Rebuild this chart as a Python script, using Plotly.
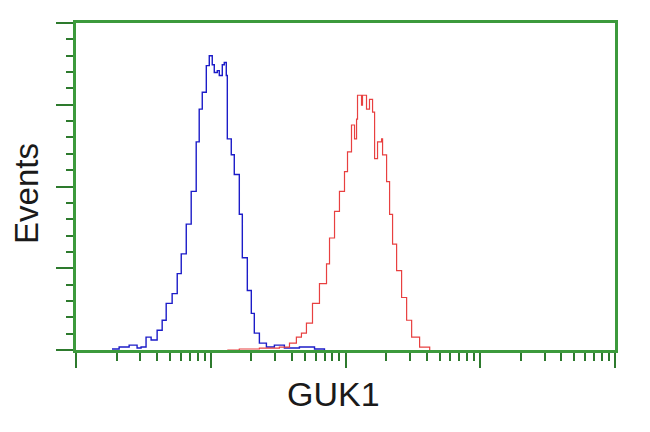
import plotly.graph_objects as go

# Blue histogram (control) - fluorescence intensity vs events
blue_x = [1.85, 2.09, 2.48, 2.84, 3.04, 3.31, 3.61, 4.00, 4.36, 4.67, 5.17, 5.64, 6.04,
          6.58, 7.16, 7.80, 8.21, 8.65, 9.27, 9.75, 10.26, 10.62, 11.18, 11.57, 12.18,
          12.60, 13.04, 13.27, 14.20, 14.95, 16.29, 17.15, 18.68, 20.00, 21.05, 22.96,
          25.88, 29.66, 35.2, 45.5, 58.9, 69.8]
blue_y = [0.6, 1.8, 3.0, 1.2, 1.8, 7.9, 6.1, 12.1, 18.2, 28.5, 34.5, 46.7, 58.8,
          77.0, 97.0, 127.3, 147.3, 157.6, 173.9, 180.0, 174.5, 169.7, 170.9, 167.9, 174.5,
          175.8, 167.9, 129.1, 119.4, 107.3, 83.0, 56.4, 36.4, 22.4, 10.3, 4.2,
          1.8, 3.0, 1.2, 1.8, 0.6, 0.0]

# Red histogram (GUK1 stained)
red_x = [13.27, 16.29, 22.96, 32.3, 38.4, 43.2, 47.1, 51.3, 56.9, 64.1, 72.3, 76.1,
         82.9, 90.2, 98.3, 103.5, 110.8, 116.7, 120.8, 122.8, 131.5, 133.7, 143.2, 150.7,
         158.8, 164.4, 172.9, 185.2, 188.4, 201.8, 212.4, 223.5, 239.5, 260.8, 284.2,
         309.6, 354.8, 421.7]
red_y = [0.0, 0.6, 1.2, 1.8, 4.2, 7.9, 10.3, 16.4, 28.5, 40.6, 52.7, 68.5,
         84.8, 97.0, 109.1, 121.2, 137.6, 129.1, 141.2, 155.8, 149.7, 155.8, 147.3, 153.3,
         145.5, 117.0, 127.3, 129.1, 119.4, 103.0, 83.0, 64.8, 48.5, 32.1, 18.2,
         7.9, 1.8, 0.0]

x_title = "GUK1"
y_title = "Events"

GREEN = "#3c9a3c"
TICK_GREEN = "#2d7a2d"

minor_x = [k * 10 ** d for d in range(4) for k in range(2, 10)]

fig = go.Figure()
fig.add_trace(go.Scatter(x=blue_x, y=blue_y, mode="lines", line_shape="hv",
                         line=dict(color="#1c1cc8", width=1.4), showlegend=False))
fig.add_trace(go.Scatter(x=red_x, y=red_y, mode="lines", line_shape="hv",
                         line=dict(color="#e84040", width=1.2), showlegend=False))

# page body has an 8px margin; plot area should sit at x 76..615, y 21..350 in the window
fig.update_layout(
    width=642, height=424,
    margin=dict(l=68, r=35, t=13, b=82),
    paper_bgcolor="white", plot_bgcolor="white",
    font=dict(family="Liberation Sans, Arial, sans-serif", color="#1a1a1a"),
    xaxis=dict(type="log", range=[0, 4], showgrid=False, zeroline=False,
               showline=True, linecolor=GREEN, linewidth=2.5, mirror=True,
               ticks="outside", ticklen=15, tickwidth=2, tickcolor=TICK_GREEN,
               tickvals=[1, 10, 100, 1000, 10000], showticklabels=False,
               minor=dict(tickvals=minor_x, ticks="outside", ticklen=8,
                          tickwidth=2, tickcolor=TICK_GREEN)),
    yaxis=dict(range=[0, 200], showgrid=False, zeroline=False,
               showline=True, linecolor=GREEN, linewidth=2.5, mirror=True,
               ticks="outside", ticklen=17, tickwidth=2, tickcolor=TICK_GREEN,
               dtick=50, tick0=0, showticklabels=False,
               minor=dict(dtick=10, ticks="outside", ticklen=7,
                          tickwidth=2, tickcolor=TICK_GREEN)),
    annotations=[
        dict(text=x_title, xref="paper", yref="paper", x=(333 - 76) / 539,
             y=-(394 - 350) / 329, xanchor="center", yanchor="middle",
             showarrow=False, font=dict(size=34, color="#1a1a1a")),
        dict(text=y_title, xref="paper", yref="paper", x=-(76 - 27) / 539,
             y=(350 - 193) / 329, xanchor="center", yanchor="middle",
             textangle=-90, showarrow=False, borderpad=0,
             font=dict(size=33, color="#1a1a1a")),
    ],
)

fig.write_html("out.html")
